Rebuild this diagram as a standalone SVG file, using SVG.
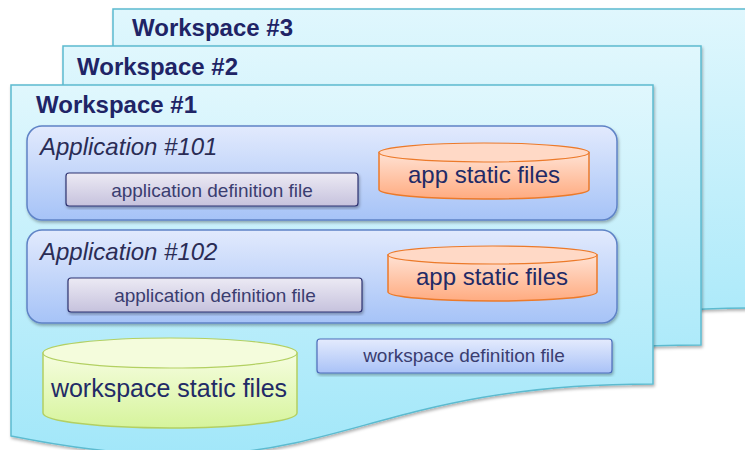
<svg xmlns="http://www.w3.org/2000/svg" width="745" height="450" viewBox="0 0 745 450">
  <defs>
    <linearGradient id="gWs" x1="0" y1="0" x2="0" y2="1">
      <stop offset="0" stop-color="#E0F7FD"/>
      <stop offset="1" stop-color="#A2E7F9"/>
    </linearGradient>
    <linearGradient id="gApp" x1="0" y1="0" x2="0" y2="1">
      <stop offset="0" stop-color="#E2EAFD"/>
      <stop offset="1" stop-color="#A6C3F7"/>
    </linearGradient>
    <linearGradient id="gDef" x1="0" y1="0" x2="0" y2="1">
      <stop offset="0" stop-color="#ECEAF4"/>
      <stop offset="1" stop-color="#C6C2DD"/>
    </linearGradient>
    <linearGradient id="gWsDef" x1="0" y1="0" x2="0" y2="1">
      <stop offset="0" stop-color="#E4EBFD"/>
      <stop offset="1" stop-color="#A9C2F7"/>
    </linearGradient>
    <linearGradient id="gOrange" x1="0" y1="0" x2="0" y2="1">
      <stop offset="0" stop-color="#FFE2D4"/>
      <stop offset="1" stop-color="#FFAB80"/>
    </linearGradient>
    <linearGradient id="gGreen" x1="0" y1="0" x2="0" y2="1">
      <stop offset="0" stop-color="#F6FDE0"/>
      <stop offset="1" stop-color="#D6F49C"/>
    </linearGradient>
    <filter id="shadow" x="-5%" y="-5%" width="110%" height="115%">
      <feDropShadow dx="1" dy="2" stdDeviation="1.5" flood-color="#000" flood-opacity="0.3"/>
    </filter>
  </defs>
  <style>
    .ws { fill: url(#gWs); stroke: #5CBBD0; stroke-width: 1.5; filter: url(#shadow); }
    .app { fill: url(#gApp); stroke: #5F83C6; stroke-width: 1.5; filter: url(#shadow); }
    .def { fill: url(#gDef); stroke: #2E3270; stroke-width: 1.2; filter: url(#shadow); }
    .wsdef { fill: url(#gWsDef); stroke: #4C6CBA; stroke-width: 1.2; filter: url(#shadow); }
    .orange { fill: url(#gOrange); stroke: #EC7A2A; stroke-width: 1.5; }
    .orangeTop { fill: #FFD9C6; stroke: #EC7A2A; stroke-width: 1.2; }
    .green { fill: url(#gGreen); stroke: #B3D062; stroke-width: 1.5; }
    .greenTop { fill: #F4FCDC; stroke: #B3D062; stroke-width: 1.2; }
    text { font-family: "Liberation Sans", Arial, sans-serif; }
    .wsTitle { font-size: 24px; font-weight: bold; fill: #1F2466; }
    .appTitle { font-size: 24px; font-style: italic; fill: #2A2C55; }
    .small { font-size: 19px; fill: #3A3D70; text-anchor: middle; }
    .big { font-size: 24px; fill: #222A66; text-anchor: middle; }
    .bigger { font-size: 25px; fill: #222A66; text-anchor: middle; }
  </style>

  <!-- stacked workspace sheets, back to front -->
  <g id="workspace3">
    <path class="ws" d="M113,9 H753 V308 C433,308 433,424 113,359 Z"/>
    <text class="wsTitle" x="132" y="36">Workspace #3</text>
  </g>
  <g id="workspace2">
    <path class="ws" d="M63,46 H701 V345 C382,345 382,461 63,396 Z"/>
    <text class="wsTitle" x="77" y="75">Workspace #2</text>
  </g>
  <g id="workspace1">
    <path class="ws" d="M11,85 H653 V384 C332,384 332,500 11,436 Z"/>
    <text class="wsTitle" x="36" y="113">Workspace #1</text>
  </g>

  <!-- application 101 -->
  <g id="app101">
    <rect class="app" x="27" y="126" width="590" height="94" rx="15"/>
    <text class="appTitle" x="40" y="155">Application #101</text>
  </g>
  <g id="appDef101">
    <rect class="def" x="66" y="173" width="292" height="33" rx="3"/>
    <text class="small" x="212" y="197">application definition file</text>
  </g>
  <g id="appStatic101">
    <path class="orange" d="M379,152.5 V189.5 A105,9.5 0 0 0 589,189.5 V152.5 Z"/>
    <ellipse class="orangeTop" cx="484" cy="152.5" rx="105" ry="9.5"/>
    <text class="big" x="484" y="183">app static files</text>
  </g>

  <!-- application 102 -->
  <g id="app102">
    <rect class="app" x="27" y="230" width="590" height="93" rx="15"/>
    <text class="appTitle" x="40" y="260">Application #102</text>
  </g>
  <g id="appDef102">
    <rect class="def" x="68" y="278" width="294" height="34" rx="3"/>
    <text class="small" x="215" y="302">application definition file</text>
  </g>
  <g id="appStatic102">
    <path class="orange" d="M388,255 V292 A104.5,9 0 0 0 597,292 V255 Z"/>
    <ellipse class="orangeTop" cx="492.5" cy="255" rx="104.5" ry="9"/>
    <text class="big" x="492" y="285">app static files</text>
  </g>

  <!-- workspace-level files -->
  <g id="wsStatic">
    <path class="green" d="M43,353 V413 A127,15 0 0 0 297,413 V353 Z"/>
    <ellipse class="greenTop" cx="170" cy="353" rx="127" ry="15"/>
    <text class="bigger" x="169" y="397">workspace static files</text>
  </g>
  <g id="wsDef">
    <rect class="wsdef" x="317" y="339" width="295" height="34" rx="3"/>
    <text class="small" x="464" y="362">workspace definition file</text>
  </g>

  <g id="connectors"/>
</svg>
